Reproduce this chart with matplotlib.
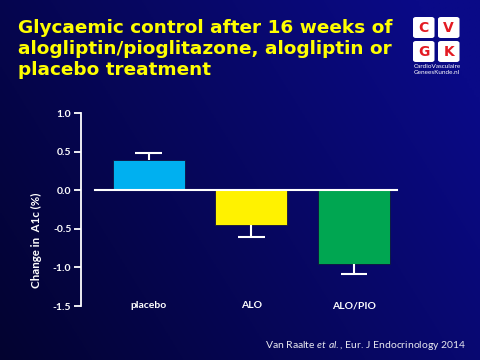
import numpy as np
import matplotlib
matplotlib.use("Agg")
import matplotlib.pyplot as plt
from matplotlib.patches import FancyBboxPatch

plt.rcParams['font.family'] = ['Lato', 'DejaVu Sans']
plt.rcParams['mathtext.fontset'] = 'custom'
plt.rcParams['mathtext.it'] = 'Lato:italic'
plt.rcParams['mathtext.rm'] = 'Lato'

# data
groups = ['placebo', 'ALO', 'ALO/PIO']
change_a1c = [0.39, -0.45, -0.95]
err = [0.09, 0.15, 0.13]
bar_colors = ['#00B0F0', '#FFF200', '#00A651']
yticks = [1.0, 0.5, 0.0, -0.5, -1.0, -1.5]

fig = plt.figure(figsize=(4.8, 3.6), dpi=100)

# background gradient
bg = fig.add_axes([0, 0, 1, 1], zorder=-10)
xx, yy = np.meshgrid(np.linspace(0, 1, 200), np.linspace(0, 1, 150))
t = np.clip(0.75 * xx + 0.35 * yy, 0, 1)
dark = np.array([3, 3, 48]) / 255
light = np.array([10, 10, 135]) / 255
img = dark[None, None, :] * (1 - t[..., None]) + light[None, None, :] * t[..., None]
bg.imshow(img, aspect='auto', extent=[0, 1, 0, 1], origin='lower')
bg.set_axis_off()

ax = fig.add_axes([0.169, 0.15, 0.658, 0.536])
ax.patch.set_alpha(0)
x = np.arange(len(groups))
ax.bar(x, change_a1c, width=0.70, color=bar_colors, edgecolor='#101040',
       linewidth=0.6, zorder=2)
# one-sided error bars (away from zero), cap only at the outer end
ends = [v + e if v > 0 else v - e for v, e in zip(change_a1c, err)]
ax.vlines(x, change_a1c, ends, color='white', lw=1.5, zorder=3)
ax.hlines(ends, x - 0.13, x + 0.13, color='white', lw=1.5, zorder=3)
ax.plot([-0.52, 2.42], [0, 0], color='white', lw=1.5, zorder=4, clip_on=False)

ax.set_xlim(-0.66, 2.42)
ax.set_ylim(-1.5, 1.0)
ax.set_yticks(yticks)
ax.set_yticklabels([f'{v:.1f}' for v in yticks])
ax.tick_params(axis='y', colors='white', labelcolor='white', direction='out',
               length=5, width=1.3, labelsize=7.5, pad=2)
for lab in ax.get_yticklabels():
    lab.set_fontweight('bold')
ax.set_xticks([])
for s in ['top', 'right', 'bottom']:
    ax.spines[s].set_visible(False)
ax.spines['left'].set_color('white')
ax.spines['left'].set_linewidth(1.3)

for xi, g in zip(x, groups):
    ax.text(xi, -1.5, g, color='white', ha='center', va='center',
            fontsize=7.5, fontweight='bold')

fig.text(0.077, 0.333, 'Change in  A1c (%)', rotation=90, color='white',
         ha='center', va='center', fontsize=8.3, fontweight='bold')

fig.text(0.037, 0.947, 'Glycaemic control after 16 weeks of\n'
         'alogliptin/pioglitazone, alogliptin or\nplacebo treatment',
         color='#FFFF00', ha='left', va='top', fontsize=13.3,
         fontweight='bold', family='DejaVu Sans', linespacing=1.22)

fig.text(0.972, 0.04, r'Van Raalte $et\ al.$, Eur. J Endocrinology 2014',
         color='#E8E8F0', ha='right', va='center', fontsize=7.5)

# logo
letters = [('C', 413, 17), ('V', 438, 17), ('G', 413, 41), ('K', 438, 41)]
for ch, px, py in letters:
    box = FancyBboxPatch((px / 480, 1 - (py + 21) / 360), 21.5 / 480, 21 / 360,
                         boxstyle='round,pad=0,rounding_size=0.006',
                         transform=fig.transFigure, facecolor='white',
                         edgecolor='none')
    fig.patches.append(box)
    fig.text((px + 10.75) / 480, 1 - (py + 10.5) / 360, ch, color='#E31B23',
             ha='center', va='center', fontsize=10, fontweight='bold',
             family='DejaVu Sans')
fig.text(437 / 480, 1 - 66 / 360, 'CardioVasculaire', color='white',
         ha='center', va='center', fontsize=4.6)
fig.text(437 / 480, 1 - 73 / 360, 'GeneesKunde.nl', color='white',
         ha='center', va='center', fontsize=4.6)

fig.savefig('out.png', dpi=100)
